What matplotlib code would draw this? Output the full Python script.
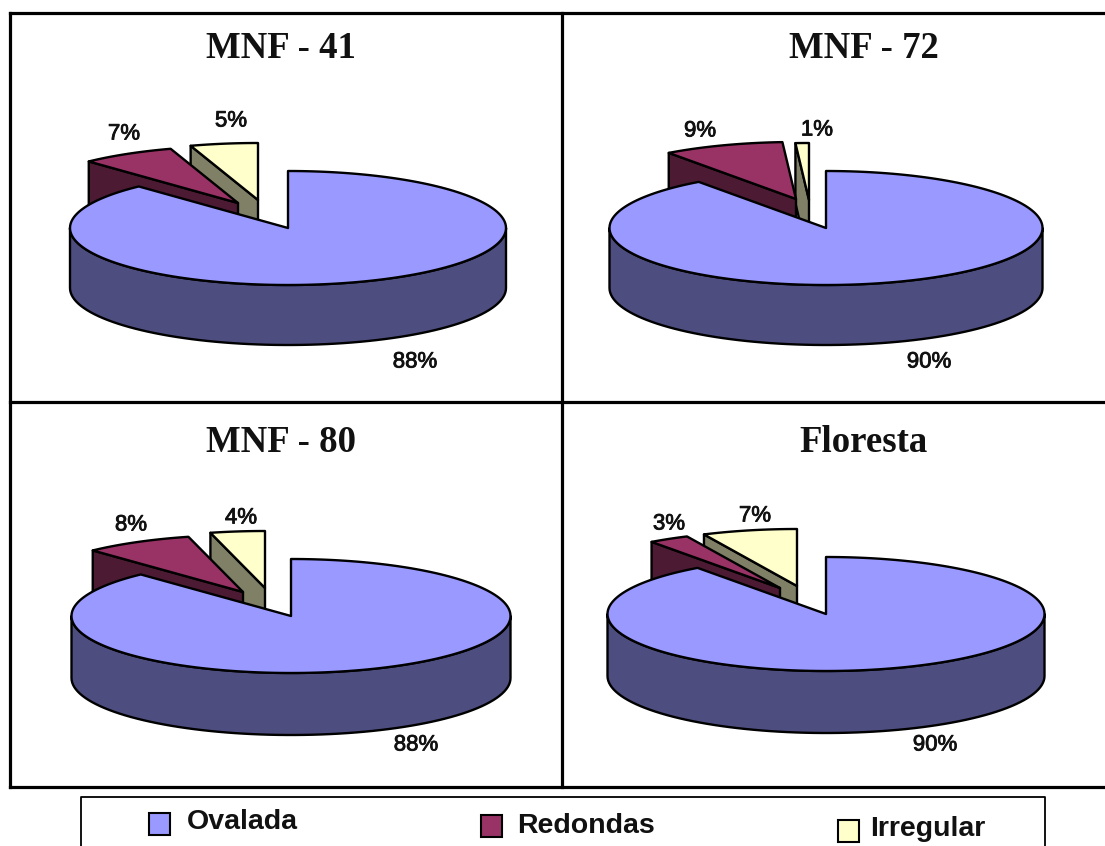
import numpy as np
import matplotlib; matplotlib.use("Agg")
import matplotlib.pyplot as plt
import matplotlib.patheffects as pe
from matplotlib.patches import Polygon, Rectangle

W, H = 1105, 846

# leaf shape share (%) per site
sites = ["MNF - 41", "MNF - 72", "MNF - 80", "Floresta"]
ovalada = [88, 90, 88, 90]
redondas = [7, 9, 8, 3]
irregular = [5, 1, 4, 7]
legend_names = ["Ovalada", "Redondas", "Irregular"]

# layout in pixels: (x, y) of the main apex, ellipse radii, rim height
centers = [(288, 228), (826, 228), (291, 616), (826, 614)]
radii = [(218, 57), (216.5, 57), (219.5, 57), (218.5, 57)]
rims = [60, 60, 62, 62]
red_apex = [(238, 203), (796, 199), (243, 592), (780, 588)]
yel_apex = [(258, 200), (809, 200), (265, 588), (797, 586)]
title_pos = [(281, 48), (864, 48), (281, 442), (863, 442)]
ova_lab = [(415, 362), (929, 362), (416, 745), (935, 745)]
red_lab = [(124, 134), (700, 131), (131, 525), (669, 524)]
yel_lab = [(231, 121), (817, 130), (241, 518), (755, 516)]

BLUE, BLUE_D = "#9999ff", "#4d4d80"
RED, RED_D = "#993366", "#4d1a33"
YEL, YEL_D = "#ffffcc", "#808066"
LW = 1.7
THICK = [pe.withStroke(linewidth=0.6, foreground="#111111")]


def arc(cx, cy, a, b, start, stop, n=80):
    # clockwise from 12 o'clock, in degrees
    t = np.radians(np.linspace(start, stop, n))
    return np.column_stack([cx + a * np.sin(t), cy - b * np.cos(t)])


def poly(ax, pts, color, z):
    ax.add_patch(Polygon(pts, closed=True, fc=color, ec="black", lw=LW, joinstyle="round", zorder=z))


def small_wedge(ax, apex, a, b, rim, start, stop, top, side, z):
    x, y = apex
    p0 = arc(x, y, a, b, start, start, 1)[0]
    # cut face on the leading edge, then the flat top
    poly(ax, [apex, p0, (p0[0], p0[1] + rim), (x, y + rim)], side, z)
    poly(ax, np.vstack([[apex], arc(x, y, a, b, start, stop)]), top, z + 0.1)


fig = plt.figure(figsize=(W / 100, H / 100), dpi=100)
ax = fig.add_axes([0, 0, 1, 1])
ax.set_xlim(0, W); ax.set_ylim(H, 0); ax.axis("off")

for i, name in enumerate(sites):
    cx, cy = centers[i]; a, b = radii[i]; rim = rims[i]
    end_big = 3.6 * ovalada[i]
    end_red = end_big + 3.6 * redondas[i]
    end_yel = end_red + 3.6 * irregular[i]

    small_wedge(ax, yel_apex[i], a, b, rim, end_red, end_yel, YEL, YEL_D, 2)
    small_wedge(ax, red_apex[i], a, b, rim, end_big, end_red, RED, RED_D, 3)

    # front rim of the big slice
    front = arc(cx, cy, a, b, 90, 270)
    poly(ax, np.vstack([front, (front + [0, rim])[::-1]]), BLUE_D, 4)
    poly(ax, np.vstack([[(cx, cy)], arc(cx, cy, a, b, 0, end_big, 200)]), BLUE, 5)

    ax.text(*title_pos[i], name, ha="center", va="center", fontsize=26.5, fontweight="bold",
            family="Liberation Serif", color="#111111", zorder=8)
    for pos, v in zip((ova_lab[i], red_lab[i], yel_lab[i]), (ovalada[i], redondas[i], irregular[i])):
        ax.text(*pos, f"{v}%", ha="center", va="center", fontsize=16, family="Liberation Sans",
                color="#111111", zorder=8, path_effects=THICK)

# panel grid, open on the right side
for xs, ys in [((10, 10), (13, 787)), ((562, 562), (13, 787)),
               ((10, W), (13, 13)), ((10, W), (402, 402)), ((10, W), (787, 787))]:
    ax.plot(xs, ys, color="black", lw=2.3, solid_capstyle="projecting", zorder=9)

# legend box runs off the bottom edge
ax.plot([81, 81, 1045, 1045], [H, 797, 797, H], color="black", lw=1.3, zorder=9)
swatches = [(149, 813), (481, 815), (838, 820)]
for (x, y), c in zip(swatches, (BLUE, RED, YEL)):
    ax.add_patch(Rectangle((x, y), 21, 22, fc=c, ec="black", lw=1.5, zorder=9))
for (x, y), s in zip([(187, 822), (517, 826), (870, 829)], legend_names):
    ax.text(x, y, s, ha="left", va="center", fontsize=20.5, fontweight="bold",
            family="Liberation Sans", color="#111111", zorder=9)

fig.savefig("out.png", dpi=100)
